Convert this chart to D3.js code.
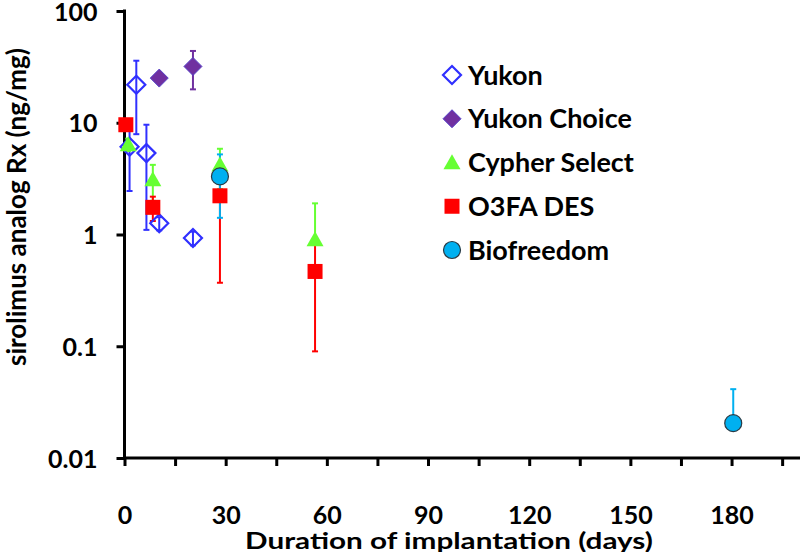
<!DOCTYPE html>
<html>
<head>
<meta charset="utf-8">
<script src="https://cdn.jsdelivr.net/npm/d3@7"></script>
<style>
  html, body { margin: 0; padding: 0; background: #fff; }
  svg { display: block; }
  text { font-family: Lato, "Open Sans", sans-serif; font-weight: bold; fill: #000; }
</style>
</head>
<body>
<svg id="chart" width="800" height="552"></svg>
<script>
// ---- data ----
const seriesNames = ["Yukon", "Yukon Choice", "Cypher Select", "O3FA DES", "Biofreedom"];

const yukonDays = [1.5, 3.5, 6.5, 10.3, 20.3];
const yukonVals = [6.1, 21.9, 5.35, 1.26, 0.93];
const yukonErr  = [3.65, 14, 4.25, 0.17, 0.13];

const choiceDays = [10.3, 20.3];
const choiceVals = [25.1, 31.9];
const choiceErr  = [2, 12];

const cypherDays = [1.1, 8.4, 28.3, 56.5];
const cypherVals = [6.4, 3.1, 4.2, 0.90];
const cypherErr  = [0.8, 1.1, 1.65, 1.0];

const o3faDays = [0.4, 8.4, 28.3, 56.5];
const o3faVals = [9.6, 1.75, 2.22, 0.467];
const o3faErr  = [1.0, 0.43, 1.85, 0.377];

const bioDays = [28.3, 180.5];
const bioVals = [3.31, 0.0205];
const bioErr  = [1.9, 0.0208];

const yTickValues = [0.01, 0.1, 1, 10, 100];
const yTickLabels = ["0.01", "0.1", "1", "10", "100"];
const xTickValues = [0, 15, 30, 45, 60, 75, 90, 105, 120, 135, 150, 165, 180, 195];
const xTickLabels = ["0", "", "30", "", "60", "", "90", "", "120", "", "150", "", "180", ""];

const xTitle = "Duration of implantation (days)";
const yTitle = "sirolimus analog Rx (ng/mg)";

// ---- styles ----
const styles = [
  { shape: "diamondOpen", color: "#3030FF" },
  { shape: "diamond",     color: "#7030A0" },
  { shape: "triangle",    color: "#66FF33" },
  { shape: "square",      color: "#FF0000" },
  { shape: "circle",      color: "#00B0F0" }
];

const series = [
  { days: yukonDays,  vals: yukonVals,  err: yukonErr },
  { days: choiceDays, vals: choiceVals, err: choiceErr },
  { days: cypherDays, vals: cypherVals, err: cypherErr },
  { days: o3faDays,   vals: o3faVals,   err: o3faErr },
  { days: bioDays,    vals: bioVals,    err: bioErr }
].map((s, i) => ({
  name: seriesNames[i],
  style: styles[i],
  points: s.days.map((d, j) => ({ x: d, y: s.vals[j], e: s.err[j] }))
}));

const svg = d3.select("#chart");
const margin = { left: 124.5, right: 1, top: 11, bottom: 94 };
const W = 800, H = 552;

// natural width of a string at a given font size
function textWidth(str, size) {
  const t = svg.append("text").style("font-size", size + "px").text(str);
  const w = t.node().getComputedTextLength();
  t.remove();
  return w;
}
function fitSize(str, targetWidth) {
  const w = textWidth(str, 20);
  return w > 0 ? 20 * targetWidth / w : 24;
}
const tickSize = Math.min(fitSize("0.01", 50), 25);
const xTitleSize = 23;
const xTitleScale = (() => { const w = textWidth(xTitle, xTitleSize); return w > 0 ? 408 / w : 1; })();
const yTitleSize = Math.min(fitSize(yTitle, 354), 26);
const legendSize = fitSize("Yukon Choice", 164);

const x = d3.scaleLinear().domain([0, 200]).range([margin.left, W - margin.right]);
const y = d3.scaleLog().domain([0.01, 100]).range([H - margin.bottom, margin.top]);

// ---- axes ----
const yAxis = d3.axisLeft(y)
  .tickValues(yTickValues)
  .tickFormat((d, i) => yTickLabels[i])
  .tickSize(8).tickSizeOuter(0).tickPadding(19);
const gy = svg.append("g").attr("transform", `translate(${x(0)},0)`).call(yAxis);

const xAxis = d3.axisBottom(x)
  .tickValues(xTickValues)
  .tickFormat((d, i) => xTickLabels[i])
  .tickSize(8).tickSizeOuter(0).tickPadding(0);
const gx = svg.append("g").attr("transform", `translate(0,${y(0.01)})`).call(xAxis);

[gx, gy].forEach(g => {
  g.select(".domain").attr("stroke", "#000").attr("stroke-width", 3);
  g.selectAll(".tick line").attr("stroke", "#000").attr("stroke-width", 3);
  g.selectAll(".tick text").style("font-size", tickSize + "px").style("font-family", "Lato").style("font-weight", "bold").attr("fill", "#000");
});
gy.selectAll(".tick text").attr("dy", "0.36em");
// x tick labels: baseline placed at ~524
gx.selectAll(".tick text").attr("y", 0).attr("dy", 0).attr("transform", `translate(0,${524 - y(0.01)})`);
gy.select(".domain").attr("d", `M0,${y(100) - 1.5}V${y(0.01)}`);
gx.select(".domain").attr("d", `M${x(0)},0H${W}`);

// axis titles
svg.append("text")
  .attr("transform", `translate(449,549) scale(${xTitleScale},1)`)
  .attr("text-anchor", "middle").style("font-size", xTitleSize + "px")
  .text(xTitle);
svg.append("text")
  .attr("transform", `translate(26,207) rotate(-90)`)
  .attr("text-anchor", "middle").style("font-size", yTitleSize + "px")
  .text(yTitle);

// ---- marker drawing ----
function drawMarker(g, shape, color, cx, cy) {
  if (shape === "diamondOpen") {
    const r = 9;
    g.append("path").attr("d", `M${cx},${cy - r}L${cx + r},${cy}L${cx},${cy + r}L${cx - r},${cy}Z`)
      .attr("fill", "none").attr("stroke", color).attr("stroke-width", 2.2);
  } else if (shape === "diamond") {
    const r = 9;
    g.append("path").attr("d", `M${cx},${cy - r}L${cx + r},${cy}L${cx},${cy + r}L${cx - r},${cy}Z`)
      .attr("fill", color).attr("stroke", "#5844C8").attr("stroke-width", 1);
  } else if (shape === "triangle") {
    const w = 8.5, h = 15;
    g.append("path").attr("d", `M${cx},${cy - h * 0.55}L${cx + w},${cy + h * 0.45}L${cx - w},${cy + h * 0.45}Z`)
      .attr("fill", color);
  } else if (shape === "square") {
    const s = 7.5;
    g.append("rect").attr("x", cx - s).attr("y", cy - s).attr("width", 2 * s).attr("height", 2 * s)
      .attr("fill", color);
  } else if (shape === "circle") {
    g.append("circle").attr("cx", cx).attr("cy", cy).attr("r", 8.5)
      .attr("fill", color).attr("stroke", "#2a3a44").attr("stroke-width", 1.2);
  }
}

// ---- error bars (all series first) ----
const errG = svg.append("g");
series.forEach(s => {
  s.points.forEach(p => {
    const px = x(p.x);
    const top = y(p.y + p.e);
    const low = p.y - p.e > 0 ? y(p.y - p.e) : y(p.y);
    errG.append("line").attr("x1", px).attr("x2", px).attr("y1", top).attr("y2", low)
      .attr("stroke", s.style.color).attr("stroke-width", 2);
    errG.append("line").attr("x1", px - 3).attr("x2", px + 3).attr("y1", top).attr("y2", top)
      .attr("stroke", s.style.color).attr("stroke-width", 2);
    if (p.y - p.e > 0) {
      errG.append("line").attr("x1", px - 3).attr("x2", px + 3).attr("y1", low).attr("y2", low)
        .attr("stroke", s.style.color).attr("stroke-width", 2);
    }
  });
});

// ---- markers ----
const mG = svg.append("g");
series.forEach(s => {
  s.points.forEach(p => drawMarker(mG, s.style.shape, s.style.color, x(p.x), y(p.y)));
});

// ---- legend ----
const legendY = d3.scalePoint().domain(seriesNames).range([75, 250]);
const lg = svg.append("g");
series.forEach(s => {
  const cy = legendY(s.name);
  drawMarker(lg, s.style.shape, s.style.color, 452, cy);
  lg.append("text").attr("x", 468).attr("y", cy).attr("dy", "0.36em")
    .style("font-size", legendSize + "px").text(s.name);
});
</script>
</body>
</html>
